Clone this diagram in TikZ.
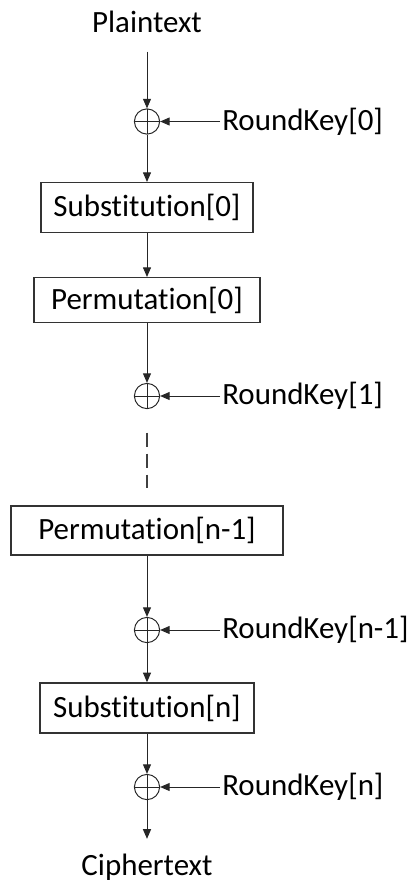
\documentclass[tikz,border=0pt]{standalone}
\usepackage{fontspec}
\setmainfont{Carlito}[Ligatures=NoCommon]
\usetikzlibrary{arrows.meta}

\tikzset{
  stage/.style={rectangle,draw=black!80,line width=1pt,inner sep=0pt},
  xorop/.style={circle,draw=black!85,line width=0.7pt,minimum size=0.63cm,inner sep=0pt,
    path picture={\draw[black!85,line width=0.7pt]
      (path picture bounding box.north) -- (path picture bounding box.south)
      (path picture bounding box.west) -- (path picture bounding box.east);}},
  keytxt/.style={anchor=west,inner xsep=0.05cm},
  flow/.style={draw=black!85,line width=0.7pt,-{Triangle[length=0.24cm,width=0.2cm]}},
  skipline/.style={draw=black!75,line width=1pt,dash pattern=on 0.35cm off 0.175cm},
}

\begin{document}
\begin{tikzpicture}[x=0.025cm,y=-0.025cm,font=\fontsize{22}{26}\selectfont]
\useasboundingbox (0,0) rectangle (414,881);

% input and first key
\node[anchor=base,inner ysep=0.475cm] (plain) at (147,32) {Plaintext};
\node[xorop] (x0) at (147,121.5) {};
\node[keytxt] (k0) at (220,121.5) {RoundKey[0]};

% round 0
\node[stage,minimum width=5.3cm,minimum height=1.25cm] (s0) at (147,207.7) {Substitution[0]};
\node[stage,minimum width=5.65cm,minimum height=1.115cm] (p0) at (147,300) {Permutation[0]};
\node[xorop] (x1) at (147,396) {};
\node[keytxt] (k1) at (220,396) {RoundKey[1]};

% last rounds
\node[stage,minimum width=6.8cm,minimum height=1.225cm] (pn1) at (147,530.5) {Permutation[n-1]};
\node[xorop] (xn1) at (147,630) {};
\node[keytxt] (kn1) at (220,630) {RoundKey[n-1]};
\node[stage,minimum width=5.35cm,minimum height=1.25cm] (sn) at (147,708) {Substitution[n]};
\node[xorop] (xn) at (147,787) {};
\node[keytxt] (kn) at (220,787) {RoundKey[n]};
\node[anchor=base,inner ysep=0.36cm] (cipher) at (147,875) {Ciphertext};

\draw[flow] (plain) -- (x0);
\draw[flow] (k0) -- (x0);
\draw[flow] (x0) -- (s0);
\draw[flow] (s0) -- (p0);
\draw[flow] (p0) -- (x1);
\draw[flow] (k1) -- (x1);
\draw[skipline,shorten <=0.59cm,shorten >=0.425cm] (x1) -- (pn1);
\draw[flow] (pn1) -- (xn1);
\draw[flow] (kn1) -- (xn1);
\draw[flow] (xn1) -- (sn);
\draw[flow] (sn) -- (xn);
\draw[flow] (kn) -- (xn);
\draw[flow] (xn) -- (cipher);

\end{tikzpicture}
\end{document}
